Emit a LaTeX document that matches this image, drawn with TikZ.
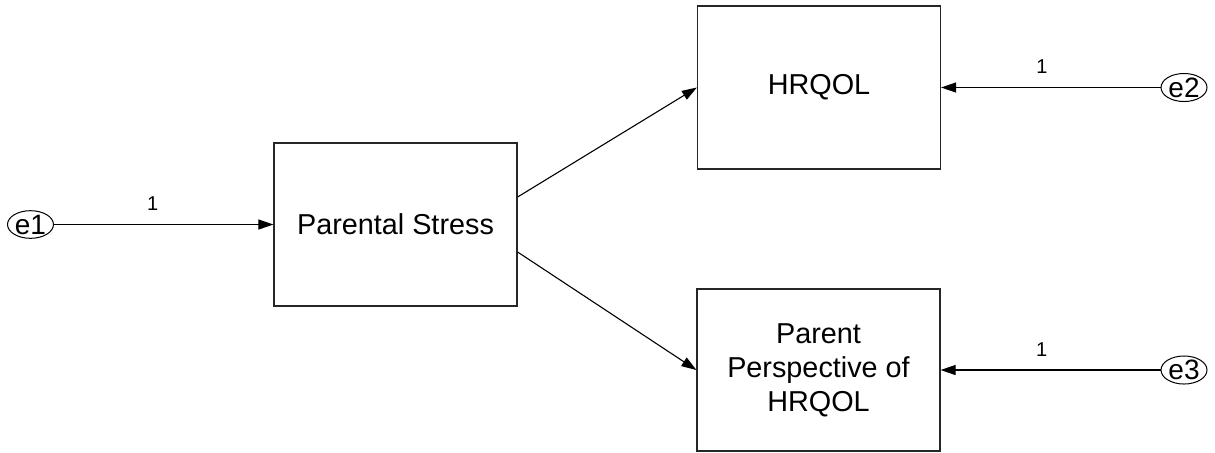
\documentclass[tikz,border=0pt]{standalone}
\usepackage{fontspec}
\setmainfont{Liberation Sans}
\usetikzlibrary{arrows.meta,calc,shapes.geometric}
\begin{document}
\begin{tikzpicture}[x=0.5pt,y=-0.5pt,
  box/.style={draw=black!85, line width=0.6pt, rectangle, minimum width=121.5pt, minimum height=81.5pt, inner sep=0pt, align=center, font=\fontsize{14.4pt}{17pt}\selectfont},
  err/.style={draw=black, line width=0.5pt, ellipse, minimum width=23pt, minimum height=12.5pt, inner sep=0pt, font=\fontsize{14pt}{15pt}\selectfont},
  path/.style={draw=black, line width=0.55pt, -{Triangle[length=7.5pt,width=5pt]}},
  lbl/.style={font=\fontsize{10pt}{11pt}\selectfont, inner sep=0pt}
]
\useasboundingbox (0,0) rectangle (1215,452);
\node[box] (ps) at (395.5,224.5) {Parental Stress};
\node[box] (hr) at (819,87.5) {HRQOL};
\node[box, minimum height=81pt] (pp) at (818.5,370) {Parent\\Perspective of\\HRQOL};
\node[err] (e1) at (30.5,224.5) {e1};
\node[err] (e2) at (1184,87.5) {e2};
\node[err] (e3) at (1184,370) {e3};
\draw[path] (e1) -- node[lbl, pos=0.45, above=6.5pt] {1} (ps.west);
\draw[path] (e2) -- node[lbl, pos=0.54, above=6.5pt] {1} (hr.east);
\draw[path] (e3) -- node[lbl, pos=0.54, above=6.5pt] {1} (pp.east);
\draw[path] ($(ps.east)+(0,-27.5)$) -- (hr.west);
\draw[path] ($(ps.east)+(0,27.5)$) -- (pp.west);
\end{tikzpicture}
\end{document}
